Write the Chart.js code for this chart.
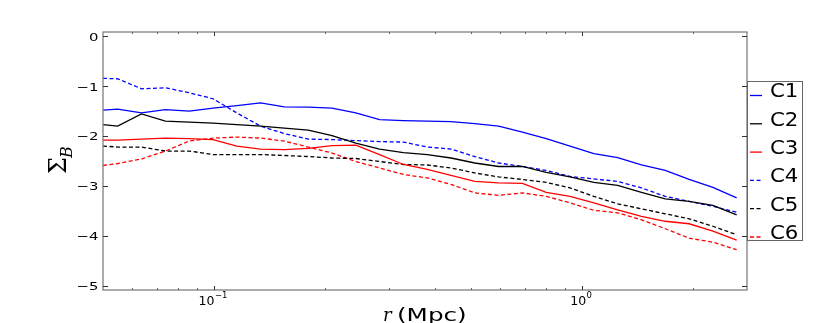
<!DOCTYPE html>
<html>
<head>
<meta charset="utf-8">
<script src="https://cdn.jsdelivr.net/npm/chart.js@4/dist/chart.umd.min.js"></script>
<style>
  html, body { margin: 0; padding: 0; background: #fff; }
  canvas { display: block; }
</style>
</head>
<body>
<canvas id="sigma" width="830" height="323"></canvas>
<script>
// radius bins (Mpc)
const radii = [0.05, 0.0548, 0.0636, 0.0739, 0.0858, 0.0995, 0.1155, 0.134, 0.1555, 0.1805,
  0.2095, 0.2431, 0.2821, 0.3275, 0.3801, 0.4411, 0.5119, 0.5941, 0.6895, 0.8003,
  0.9288, 1.078, 1.251, 1.452, 1.685, 1.956, 2.270, 2.634];

const c1 = [-1.48, -1.46, -1.535, -1.47, -1.50, -1.44, -1.39, -1.335, -1.415, -1.42,
  -1.44, -1.535, -1.67, -1.69, -1.70, -1.71, -1.75, -1.80, -1.92, -2.05,
  -2.20, -2.35, -2.43, -2.58, -2.69, -2.87, -3.03, -3.24];
const c2 = [-1.77, -1.80, -1.555, -1.70, -1.72, -1.74, -1.77, -1.80, -1.84, -1.88,
  -1.99, -2.14, -2.26, -2.33, -2.37, -2.44, -2.54, -2.61, -2.61, -2.73,
  -2.82, -2.93, -2.99, -3.13, -3.26, -3.31, -3.39, -3.58];
const c3 = [-2.08, -2.08, -2.06, -2.04, -2.05, -2.07, -2.20, -2.26, -2.27, -2.245,
  -2.19, -2.18, -2.37, -2.57, -2.67, -2.79, -2.91, -2.94, -2.95, -3.13,
  -3.21, -3.34, -3.48, -3.61, -3.71, -3.76, -3.91, -4.09];
const c4 = [-0.84, -0.85, -1.05, -1.03, -1.13, -1.25, -1.535, -1.80, -1.95, -2.06,
  -2.07, -2.09, -2.11, -2.12, -2.22, -2.26, -2.41, -2.54, -2.61, -2.69,
  -2.81, -2.86, -2.91, -3.04, -3.21, -3.31, -3.41, -3.53];
const c5 = [-2.20, -2.22, -2.22, -2.30, -2.30, -2.37, -2.37, -2.37, -2.39, -2.41,
  -2.44, -2.45, -2.51, -2.57, -2.58, -2.64, -2.74, -2.82, -2.87, -2.93,
  -3.04, -3.21, -3.36, -3.46, -3.56, -3.66, -3.81, -3.98];
const c6 = [-2.59, -2.55, -2.46, -2.30, -2.10, -2.04, -2.02, -2.04, -2.10, -2.22,
  -2.34, -2.51, -2.64, -2.77, -2.84, -2.97, -3.14, -3.19, -3.14, -3.21,
  -3.34, -3.49, -3.54, -3.68, -3.86, -4.05, -4.13, -4.28];

const seriesNames = ['C1', 'C2', 'C3', 'C4', 'C5', 'C6'];

// ticks
const yTicks = [0, -1, -2, -3, -4, -5];
const yTickLabels = ['0', '\u22121', '\u22122', '\u22123', '\u22124', '\u22125'];
const xMajorTicks = [0.1, 1];
const xTickLabels = [['10', '\u22121'], ['10', '0']];
const xMinorTicks = [0.06, 0.07, 0.08, 0.09, 0.2, 0.3, 0.4, 0.5, 0.6, 0.7, 0.8, 0.9, 2];

const DASH = [4, 2.5];

function pts(vals) {
  return vals.map((v, i) => ({ x: radii[i], y: v }));
}

function line(label, vals, color, dashed) {
  return {
    label: label,
    data: pts(vals),
    borderColor: color,
    borderWidth: 1.3,
    borderDash: dashed ? DASH : [],
    pointRadius: 0,
    tension: 0,
    fill: false
  };
}

// text squeezed/stretched sideways like the original figure
function wideText(ctx, text, x, y, sx, align) {
  ctx.save();
  ctx.translate(x, y);
  ctx.scale(sx, 1);
  ctx.textAlign = align || 'left';
  ctx.fillText(text, 0, 0);
  ctx.restore();
}

const axesPlugin = {
  id: 'mplAxes',
  beforeDraw(chart) {
    const ctx = chart.ctx;
    ctx.save();
    ctx.fillStyle = '#fff';
    ctx.fillRect(0, 0, chart.width, chart.height);
    ctx.restore();
  },
  afterDraw(chart) {
    const ctx = chart.ctx;
    const a = chart.chartArea;
    const xs = chart.scales.x, ys = chart.scales.y;
    ctx.save();

    // frame
    ctx.strokeStyle = '#808080';
    ctx.lineWidth = 1.3;
    ctx.strokeRect(a.left, a.top, a.right - a.left, a.bottom - a.top);

    // inward ticks
    ctx.strokeStyle = '#333';
    ctx.lineWidth = 1;
    ctx.beginPath();
    yTicks.forEach(v => {
      const y = Math.round(ys.getPixelForValue(v)) + 0.5;
      ctx.moveTo(a.left, y); ctx.lineTo(a.left + 5, y);
      ctx.moveTo(a.right, y); ctx.lineTo(a.right - 5, y);
    });
    xMajorTicks.forEach(v => {
      const x = Math.round(xs.getPixelForValue(v)) + 0.5;
      ctx.moveTo(x, a.bottom); ctx.lineTo(x, a.bottom - 4);
      ctx.moveTo(x, a.top); ctx.lineTo(x, a.top + 4);
    });
    ctx.stroke();
    ctx.strokeStyle = '#666';
    ctx.beginPath();
    xMinorTicks.forEach(v => {
      const x = Math.round(xs.getPixelForValue(v)) + 0.5;
      ctx.moveTo(x, a.bottom); ctx.lineTo(x, a.bottom - 2);
      ctx.moveTo(x, a.top); ctx.lineTo(x, a.top + 2);
    });
    ctx.stroke();

    // y tick labels
    ctx.fillStyle = '#000';
    ctx.font = '11px "DejaVu Sans"';
    ctx.textBaseline = 'middle';
    yTicks.forEach((v, i) => {
      wideText(ctx, yTickLabels[i], a.left - 4.5, ys.getPixelForValue(v) + 1.5, 1.35, 'right');
    });

    // x tick labels 10^n
    ctx.textBaseline = 'alphabetic';
    xMajorTicks.forEach((v, i) => {
      const x = xs.getPixelForValue(v);
      ctx.font = '12.5px "DejaVu Sans"';
      const w1 = ctx.measureText(xTickLabels[i][0]).width;
      ctx.font = '8.5px "DejaVu Sans"';
      const w2 = ctx.measureText(xTickLabels[i][1]).width;
      const x0 = x - (w1 + w2) / 2 - 1;
      ctx.font = '12.5px "DejaVu Sans"';
      ctx.fillText(xTickLabels[i][0], x0, 305);
      ctx.font = '8.5px "DejaVu Sans"';
      ctx.fillText(xTickLabels[i][1], x0 + w1 + 0.5, 298);
    });

    // x title
    ctx.font = 'italic 18px "DejaVu Serif"';
    ctx.fillText('r', 383, 321);
    ctx.font = '17px "DejaVu Sans"';
    wideText(ctx, '(Mpc)', 397, 321, 1.45, 'left');

    // y title  Σ_B
    ctx.save();
    ctx.translate(66, 174);
    ctx.rotate(-Math.PI / 2);
    ctx.font = '24px "DejaVu Serif"';
    ctx.textAlign = 'left';
    ctx.fillText('\u03A3', 0, 0);
    const sw = ctx.measureText('\u03A3').width;
    ctx.font = 'italic 16px "DejaVu Serif"';
    ctx.fillText('B', sw - 1, 6);
    ctx.restore();

    // legend box outside the axes
    const lx = a.right, ly = 81.5, lw = 55, lh = 159;
    ctx.fillStyle = '#fff';
    ctx.fillRect(lx, ly, lw, lh);
    ctx.strokeStyle = '#666';
    ctx.lineWidth = 1;
    ctx.strokeRect(lx + 0.5, ly, lw, lh);
    ctx.font = '19px "DejaVu Sans"';
    ctx.textBaseline = 'middle';
    chart.data.datasets.forEach((ds, i) => {
      const cy = 91.5 + i * 28.3;
      ctx.strokeStyle = ds.borderColor;
      ctx.lineWidth = 1.3;
      ctx.setLineDash(ds.borderDash || []);
      ctx.beginPath();
      ctx.moveTo(lx + 3, cy + 4);
      ctx.lineTo(lx + 15, cy + 4);
      ctx.stroke();
      ctx.setLineDash([]);
      ctx.fillStyle = '#000';
      wideText(ctx, ds.label, lx + 23, cy + 1, 1.12, 'left');
    });

    ctx.restore();
  }
};

new Chart(document.getElementById('sigma'), {
  type: 'line',
  data: {
    datasets: [
      line(seriesNames[0], c1, '#0000ff', false),
      line(seriesNames[1], c2, '#000000', false),
      line(seriesNames[2], c3, '#ff0000', false),
      line(seriesNames[3], c4, '#0000ff', true),
      line(seriesNames[4], c5, '#000000', true),
      line(seriesNames[5], c6, '#ff0000', true)
    ]
  },
  options: {
    responsive: false,
    devicePixelRatio: 1,
    animation: false,
    layout: { padding: { left: 103, right: 83, top: 32, bottom: 33 } },
    plugins: { legend: { display: false }, tooltip: { enabled: false } },
    scales: {
      x: { type: 'logarithmic', min: 0.05, max: 2.81, display: false },
      y: { type: 'linear', min: -5.09, max: 0.09, display: false }
    }
  },
  plugins: [axesPlugin]
});
</script>
</body>
</html>
